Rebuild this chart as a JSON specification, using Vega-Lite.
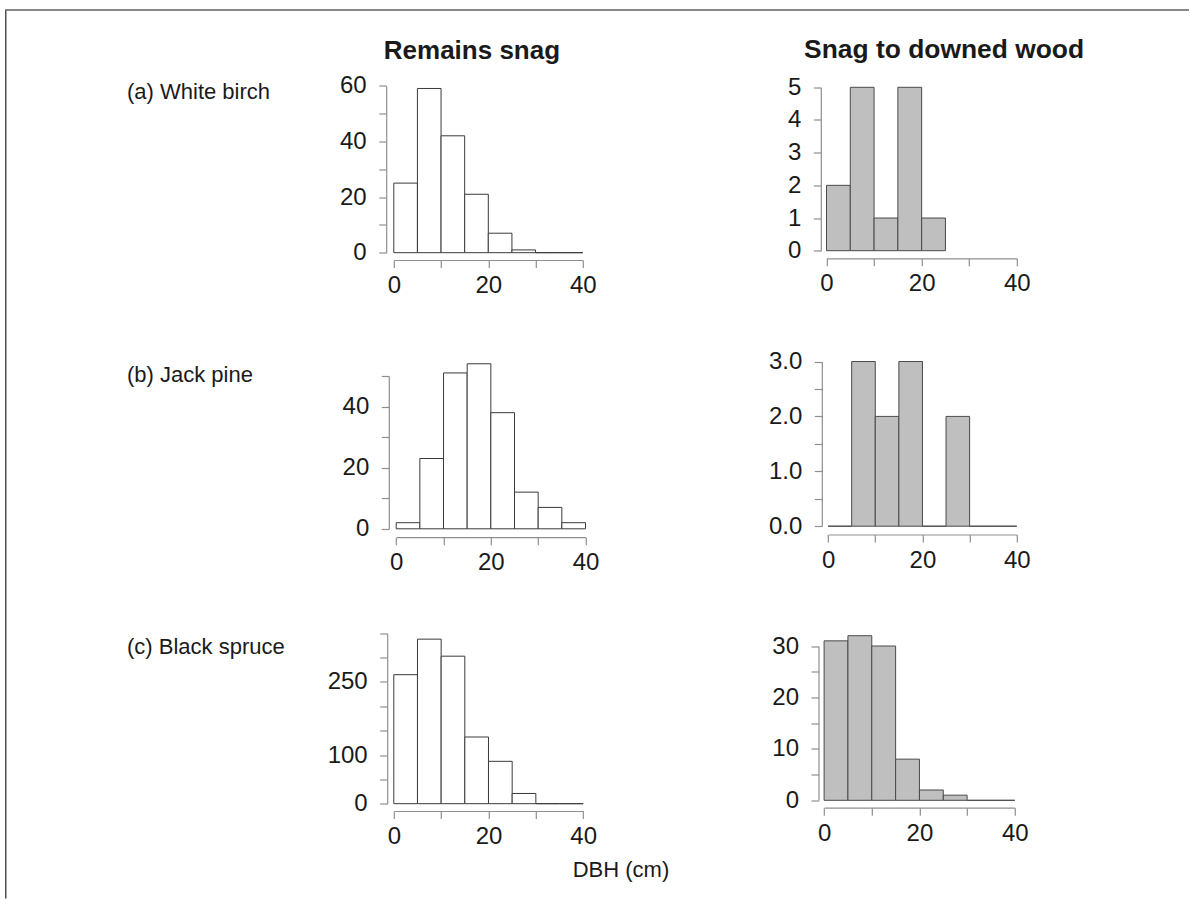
{
  "$schema": "https://vega.github.io/schema/vega-lite/v6.json",
  "padding": {"left": 5, "top": 9.5, "right": 0, "bottom": 0},
  "background": "white",
  "config": {
    "view": {"stroke": null},
    "font": "Liberation Sans",
    "axis": {"domainColor": "#8f8f8f", "tickColor": "#8f8f8f", "domainWidth": 1.2, "tickWidth": 1.2, "labelColor": "#1a1a1a", "labelFont": "Liberation Sans", "labelFontSize": 24, "grid": false, "tickSize": 7.5, "labelOverlap": false, "labelFlush": false, "labelBound": false, "titleFont": "Liberation Sans", "titleFontWeight": "normal", "titleColor": "#1a1a1a", "titleFontSize": 22},
    "axisY": {"labelPadding": 12.5},
    "axisX": {"labelPadding": 6},
    "title": {"font": "Liberation Sans", "fontSize": 26, "fontWeight": "bold", "color": "#1a1a1a", "anchor": "start", "frame": "group", "baseline": "alphabetic", "offset": 0}
  },
  "datasets": {
    "aL": [{"lo":0,"hi":5,"n":25},{"lo":5,"hi":10,"n":59},{"lo":10,"hi":15,"n":42},{"lo":15,"hi":20,"n":21},{"lo":20,"hi":25,"n":7},{"lo":25,"hi":30,"n":1},{"lo":30,"hi":35,"n":0},{"lo":35,"hi":40,"n":0}],
    "aR": [{"lo":0,"hi":5,"n":2},{"lo":5,"hi":10,"n":5},{"lo":10,"hi":15,"n":1},{"lo":15,"hi":20,"n":5},{"lo":20,"hi":25,"n":1}],
    "bL": [{"lo":0,"hi":5,"n":2},{"lo":5,"hi":10,"n":23},{"lo":10,"hi":15,"n":51},{"lo":15,"hi":20,"n":54},{"lo":20,"hi":25,"n":38},{"lo":25,"hi":30,"n":12},{"lo":30,"hi":35,"n":7},{"lo":35,"hi":40,"n":2}],
    "bR": [{"lo":0,"hi":5,"n":0},{"lo":5,"hi":10,"n":3},{"lo":10,"hi":15,"n":2},{"lo":15,"hi":20,"n":3},{"lo":20,"hi":25,"n":0},{"lo":25,"hi":30,"n":2},{"lo":30,"hi":35,"n":0},{"lo":35,"hi":40,"n":0}],
    "cL": [{"lo":0,"hi":5,"n":265},{"lo":5,"hi":10,"n":338},{"lo":10,"hi":15,"n":303},{"lo":15,"hi":20,"n":137},{"lo":20,"hi":25,"n":87},{"lo":25,"hi":30,"n":21},{"lo":30,"hi":35,"n":0},{"lo":35,"hi":40,"n":0}],
    "cR": [{"lo":0,"hi":5,"n":31},{"lo":5,"hi":10,"n":32},{"lo":10,"hi":15,"n":30},{"lo":15,"hi":20,"n":8},{"lo":20,"hi":25,"n":2},{"lo":25,"hi":30,"n":1},{"lo":30,"hi":35,"n":0},{"lo":35,"hi":40,"n":0}],
    "frame": [{"part": "frame"}]
  },
  "spacing": 0,
  "bounds": "flush",
  "vconcat": [
    {"width": 1184, "height": 1, "data": {"name": "frame"}, "mark": {"type": "rect", "color": "#111111"}},
    {
      "spacing": 381.8,
      "bounds": "flush",
      "hconcat": [
        {"width": 1.5, "height": 888, "data": {"name": "frame"}, "mark": {"type": "rect", "color": "#505050"}},
        {
          "columns": 2,
          "spacing": {"row": 26.5, "column": 236},
          "bounds": "flush",
          "concat": [
            {
              "width": 196.7, "height": 247.5,
              "data": {"name": "aL"},
              "title": {"text": "Remains snag", "dx": -5, "dy": 57},
              "mark": {"type": "rect", "fill": "white", "stroke": "#3a3a3a", "strokeWidth": 1},
              "encoding": {
                "x": {"field": "lo", "type": "quantitative", "scale": {"domain": [0, 40], "range": [5, 194], "nice": false, "zero": false}, "axis": {"values": [0, 10, 20, 30, 40], "labelExpr": "datum.value % 20 === 0 ? datum.label : ''", "offset": 2, "title": null}},
                "x2": {"field": "hi"},
                "y": {"field": "n", "type": "quantitative", "scale": {"domain": [0, 60], "range": [242.2, 75.2], "nice": false}, "axis": {"values": [0, 10, 20, 30, 40, 50, 60], "labelExpr": "datum.value % 20 === 0 ? datum.label : ''", "offset": 2.6, "title": "(a) White birch", "titleAngle": 0, "titleAlign": "left", "titleBaseline": "alphabetic", "titleX": -259.7, "titleY": 87.5}},
                "y2": {"datum": 0}
              }
            },
            {
              "width": 195, "height": 247.5,
              "data": {"name": "aR"},
              "title": {"text": "Snag to downed wood", "dx": -17.7, "dy": 57, "fontSize": 26.4},
              "mark": {"type": "rect", "fill": "#bfbfbf", "stroke": "#4a4a4a", "strokeWidth": 1},
              "encoding": {
                "x": {"field": "lo", "type": "quantitative", "scale": {"domain": [0, 40], "range": [4.7, 195], "nice": false, "zero": false}, "axis": {"values": [0, 10, 20, 30, 40], "labelExpr": "datum.value % 20 === 0 ? datum.label : ''", "offset": 0.3, "title": null}},
                "x2": {"field": "hi"},
                "y": {"field": "n", "type": "quantitative", "scale": {"domain": [0, 5], "range": [240.2, 76.8], "nice": false}, "axis": {"values": [0, 1, 2, 3, 4, 5], "offset": 1, "title": null}},
                "y2": {"datum": 0}
              }
            },
            {
              "width": 196.7, "height": 247.5,
              "data": {"name": "bL"},
              "mark": {"type": "rect", "fill": "white", "stroke": "#3a3a3a", "strokeWidth": 1},
              "encoding": {
                "x": {"field": "lo", "type": "quantitative", "scale": {"domain": [0, 40], "range": [7.4, 196.7], "nice": false, "zero": false}, "axis": {"values": [0, 10, 20, 30, 40], "labelExpr": "datum.value % 20 === 0 ? datum.label : ''", "offset": 4.7, "title": null}},
                "x2": {"field": "hi"},
                "y": {"field": "n", "type": "quantitative", "scale": {"domain": [0, 50], "range": [243.8, 91], "nice": false}, "axis": {"values": [0, 10, 20, 30, 40, 50], "labelExpr": "datum.value % 20 === 0 ? datum.label : ''", "offset": 0, "title": "(b) Jack pine", "titleAngle": 0, "titleAlign": "left", "titleBaseline": "alphabetic", "titleX": -262.3, "titleY": 96.5}},
                "y2": {"datum": 0}
              }
            },
            {
              "width": 195, "height": 247.5,
              "data": {"name": "bR"},
              "mark": {"type": "rect", "fill": "#bfbfbf", "stroke": "#4a4a4a", "strokeWidth": 1},
              "encoding": {
                "x": {"field": "lo", "type": "quantitative", "scale": {"domain": [0, 40], "range": [6.3, 195], "nice": false, "zero": false}, "axis": {"values": [0, 10, 20, 30, 40], "labelExpr": "datum.value % 20 === 0 ? datum.label : ''", "offset": 2, "title": null}},
                "x2": {"field": "hi"},
                "y": {"field": "n", "type": "quantitative", "scale": {"domain": [0, 3], "range": [241.2, 76.5], "nice": false}, "axis": {"values": [0, 0.5, 1, 1.5, 2, 2.5, 3], "labelExpr": "datum.value % 1 === 0 ? format(datum.value, '.1f') : ''", "offset": 0, "title": null}},
                "y2": {"datum": 0}
              }
            },
            {
              "width": 196.7, "height": 247.5,
              "data": {"name": "cL"},
              "mark": {"type": "rect", "fill": "white", "stroke": "#3a3a3a", "strokeWidth": 1},
              "encoding": {
                "x": {"field": "lo", "type": "quantitative", "scale": {"domain": [0, 40], "range": [5, 194.4], "nice": false, "zero": false}, "axis": {"values": [0, 10, 20, 30, 40], "labelExpr": "datum.value % 20 === 0 ? datum.label : ''", "offset": 4, "title": "DBH (cm)", "titleX": 231.7, "titleY": 65, "titleAlign": "center", "titleBaseline": "alphabetic"}},
                "x2": {"field": "hi"},
                "y": {"field": "n", "type": "quantitative", "scale": {"domain": [0, 350], "range": [244.2, 73.8], "nice": false}, "axis": {"values": [0, 50, 100, 150, 200, 250, 300, 350], "labelExpr": "indexof([0, 100, 250], datum.value) >= 0 ? datum.label : ''", "offset": 1.6, "title": "(c) Black spruce", "titleAngle": 0, "titleAlign": "left", "titleBaseline": "alphabetic", "titleX": -260.7, "titleY": 93.5}},
                "y2": {"datum": 0}
              }
            },
            {
              "width": 195, "height": 247.5,
              "data": {"name": "cR"},
              "mark": {"type": "rect", "fill": "#bfbfbf", "stroke": "#4a4a4a", "strokeWidth": 1},
              "encoding": {
                "x": {"field": "lo", "type": "quantitative", "scale": {"domain": [0, 40], "range": [2.3, 193], "nice": false, "zero": false}, "axis": {"values": [0, 10, 20, 30, 40], "labelExpr": "datum.value % 20 === 0 ? datum.label : ''", "offset": 0.7, "title": null}},
                "x2": {"field": "hi"},
                "y": {"field": "n", "type": "quantitative", "scale": {"domain": [0, 30], "range": [240.8, 86.5], "nice": false}, "axis": {"values": [0, 5, 10, 15, 20, 25, 30], "labelExpr": "datum.value % 10 === 0 ? datum.label : ''", "offset": 3.3, "title": null}},
                "y2": {"datum": 0}
              }
            }
          ]
        }
      ]
    }
  ]
}
